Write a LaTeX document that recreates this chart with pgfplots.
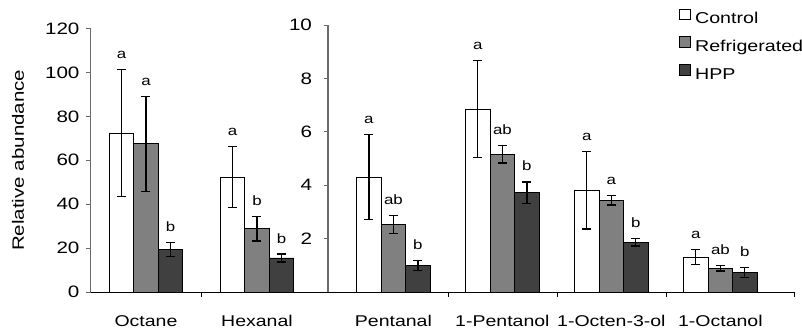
\documentclass[border=0pt]{standalone}
\usepackage{fontspec}
\setmainfont{Liberation Sans}[FakeStretch=1.25]
\usepackage{pgfplots}
\usepackage{pgfplotstable}
\pgfplotsset{compat=1.18}
\definecolor{refg}{HTML}{808080}
\definecolor{hppg}{HTML}{404040}
\definecolor{axg}{HTML}{6A6A6A}

\pgfplotstableread{
x y e lab
0 72.5 29.0 a
1 52.3 13.8 a
}\leftctrl
\pgfplotstableread{
x y e lab
0 67.5 21.7 a
1 28.8 5.6 b
}\leftref
\pgfplotstableread{
x y e lab
0 19.3 3.1 b
1 15.5 1.8 b
}\lefthpp
\pgfplotstableread{
x y e lab
0 4.30 1.59 a
1 6.85 1.81 a
2 3.81 1.45 a
3 1.31 0.28 a
}\rightctrl
\pgfplotstableread{
x y e lab
0 2.54 0.34 ab
1 5.16 0.33 ab
2 3.43 0.17 a
3 0.89 0.10 ab
}\rightref
\pgfplotstableread{
x y e lab
0 1.00 0.19 b
1 3.72 0.40 b
2 1.86 0.14 b
3 0.74 0.19 b
}\righthpp

\pgfplotsset{
  mybars/.style={
    scale only axis,
    anchor=south west,
    ybar=0pt,
    bar width=24.5pt,
    axis x line*=bottom,
    axis y line*=left,
    x axis line style={black, line width=0.8pt, -},
    y axis line style={axg, line width=1.4pt, -},
    tick align=outside,
    major tick length=4.5pt,
    ytick style={axg, line width=0.8pt},
    xtick style={black, line width=0.6pt},
    xticklabels={},
    extra x tick style={major tick length=0pt,
      xticklabel style={anchor=base, yshift=-34.5pt, font=\fontsize{15.6}{18}\selectfont}},
    /pgf/number format/assume math mode=true,
    yticklabel style={font=\fontsize{16.5}{19}\selectfont},
    every axis plot/.append style={draw=black, line width=0.6pt},
    error bars/y dir=both,
    error bars/y explicit,
    error bars/error bar style={black, line width=1.2pt},
    error bars/error mark options={rotate=90, mark size=4.5pt, line width=1.2pt, black},
    point meta=explicit symbolic,
    nodes near coords,
    visualization depends on={\thisrow{e} \as \err},
    nodes near coords style={shift={(axis direction cs:0,\err)}, anchor=base, yshift=11pt, inner sep=0pt, font=\fontsize{13.5}{15}\selectfont, text=black},
  },
}

\begin{document}
\begin{tikzpicture}
\path[use as bounding box] (0,0) rectangle (802pt,330pt);
\begin{axis}[mybars,
  at={(90.5pt,38pt)},
  width=237.5pt, height=263.5pt,
  xmin=-0.5, xmax=1.64, ymin=0, ymax=120,
  ytick={0,20,40,60,80,100,120},
  yticklabel style={xshift=-3pt},
  xtick={0.5},
  extra x ticks={0,1},
  extra x tick labels={Octane,Hexanal},
  ylabel={Relative abundance},
  every axis y label/.style={at={(axis description cs:-0.305,0.5)}, anchor=center, rotate=90, font=\fontsize{16.4}{19}\selectfont},
]
\addplot[fill=white] table[x=x, y=y, y error=e, meta=lab] {\leftctrl};
\addplot[fill=refg] table[x=x, y=y, y error=e, meta=lab] {\leftref};
\addplot[fill=hppg] table[x=x, y=y, y error=e, meta=lab] {\lefthpp};
\end{axis}
\begin{axis}[mybars,
  at={(328pt,38pt)},
  width=466.5pt, height=267pt,
  xmin=-0.6, xmax=3.68, ymin=0, ymax=10,
  ytick={2,4,6,8,10},
  yticklabel style={xshift=-8pt},
  xtick={0.5,1.5,2.5,3.68},
  extra x ticks={0,1,2,3},
  extra x tick labels={Pentanal,1-Pentanol,1-Octen-3-ol,1-Octanol},
  legend style={draw=none, fill=none, at={(0.752,1.062)}, anchor=north west,
    font=\fontsize{15.7}{19}\selectfont, row sep=11pt, inner sep=0pt,
    nodes={inner xsep=4.5pt, inner ysep=0pt}},
  legend cell align=left,
  legend image code/.code={\draw[#1, draw=black, line width=0.6pt] (0pt,-0.5pt) rectangle (11pt,10pt);},
]
\addplot[fill=white] table[x=x, y=y, y error=e, meta=lab] {\rightctrl};
\addplot[fill=refg] table[x=x, y=y, y error=e, meta=lab] {\rightref};
\addplot[fill=hppg] table[x=x, y=y, y error=e, meta=lab] {\righthpp};
\legend{Control,Refrigerated,HPP}
\end{axis}
\end{tikzpicture}
\end{document}
